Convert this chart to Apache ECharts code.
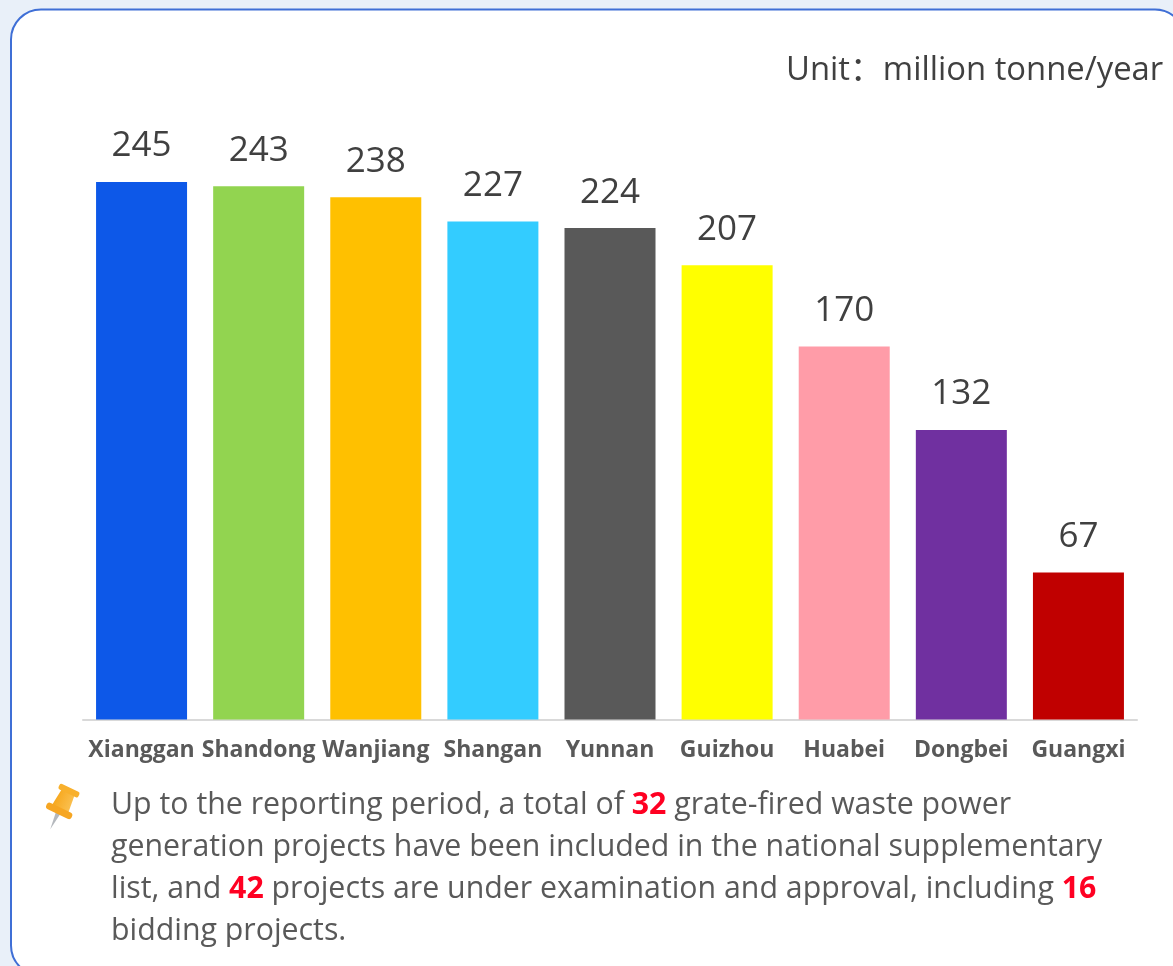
<!DOCTYPE html>
<html>
<head>
<meta charset="utf-8">
<style>html,body{margin:0;padding:0;background:#fff;}#c{width:1173px;height:966px;}</style>
<script src="https://cdn.jsdelivr.net/npm/echarts@6/dist/echarts.min.js"></script>
</head>
<body>
<div id="c"></div>
<script>
const categories = ['Xianggan','Shandong','Wanjiang','Shangan','Yunnan','Guizhou','Huabei','Dongbei','Guangxi'];
const values = [245,243,238,227,224,207,170,132,67];
const colors = ['#0D58E8','#92D450','#FFC000','#33CCFF','#595959','#FFFF00','#FF9CA8','#7030A0','#C00000'];
const unitText = 'Unit\uFF1Amillion tonne/year';
const noteLines = [
  'Up to the reporting period, a total of {b|32} grate-fired waste power',
  'generation projects have been included in the national supplementary',
  'list, and {b|42} projects are under examination and approval, including {b|16}',
  'bidding projects.'
];
const FONT = '"Open Sans","Noto Sans CJK SC",sans-serif';
const LG = echarts.graphic.LinearGradient;
const chart = echarts.init(document.getElementById('c'), null, {renderer:'canvas'});
chart.setOption({
  animation:false,
  backgroundColor:'#fff',
  grid:{left:83,right:36,top:171,bottom:246.5,containLabel:false},
  xAxis:{
    type:'category',data:categories,
    axisTick:{show:false},
    axisLine:{lineStyle:{color:'#D9D9D9',width:2}},
    axisLabel:{interval:0,color:'#595959',fontFamily:FONT,fontWeight:'bold',fontSize:23,margin:19,hideOverlap:false}
  },
  yAxis:{type:'value',min:0,max:250,show:false,splitLine:{show:false}},
  series:[{
    type:'bar',barWidth:91,z:5,
    data:values.map((v,i)=>({value:v,itemStyle:{color:colors[i]}})),
    label:{show:true,position:'top',distance:18,color:'#404040',fontFamily:FONT,fontSize:35}
  }],
  graphic:[
    {type:'rect',z:-10,silent:true,shape:{x:0,y:0,width:1173,height:966},
     style:{fill:'#E9F0F9'}},
    {type:'rect',z:-9,silent:true,shape:{x:11,y:9.5,width:1174,height:966,r:30},
     style:{fill:'#fff',stroke:'#3F6FD6',lineWidth:2}},
    {type:'text',z:10,left:786,top:54,silent:true,
     style:{text:unitText,fill:'#404040',font:'32.8px '+FONT}},
    {type:'text',z:10,left:111,top:784,silent:true,
     style:{text:noteLines.join('\n'),fill:'#595959',font:'30.3px '+FONT,lineHeight:42.2,
       rich:{b:{fill:'#FF0022',font:'bold 30.3px '+FONT,lineHeight:42.2}}}},
    {type:'group',z:10,x:62,y:805,rotation:-0.45,silent:true,children:[
      {type:'polygon',shape:{points:[[-2.5,8],[2.5,8],[0,27]]},style:{fill:'#B4B8BD'}},
      {type:'polygon',shape:{points:[[-7,-15],[7,-15],[9,4],[-9,4]]},
       style:{fill:new LG(0,0,1,0,[{offset:0,color:'#F7A81E'},{offset:1,color:'#FAC050'}])}},
      {type:'rect',shape:{x:-11,y:-19,width:22,height:6,r:2},style:{fill:'#F8B02C'}},
      {type:'rect',shape:{x:-14,y:3,width:28,height:7,r:3},style:{fill:'#F6A623'}}
    ]}
  ]
});
</script>
</body>
</html>
